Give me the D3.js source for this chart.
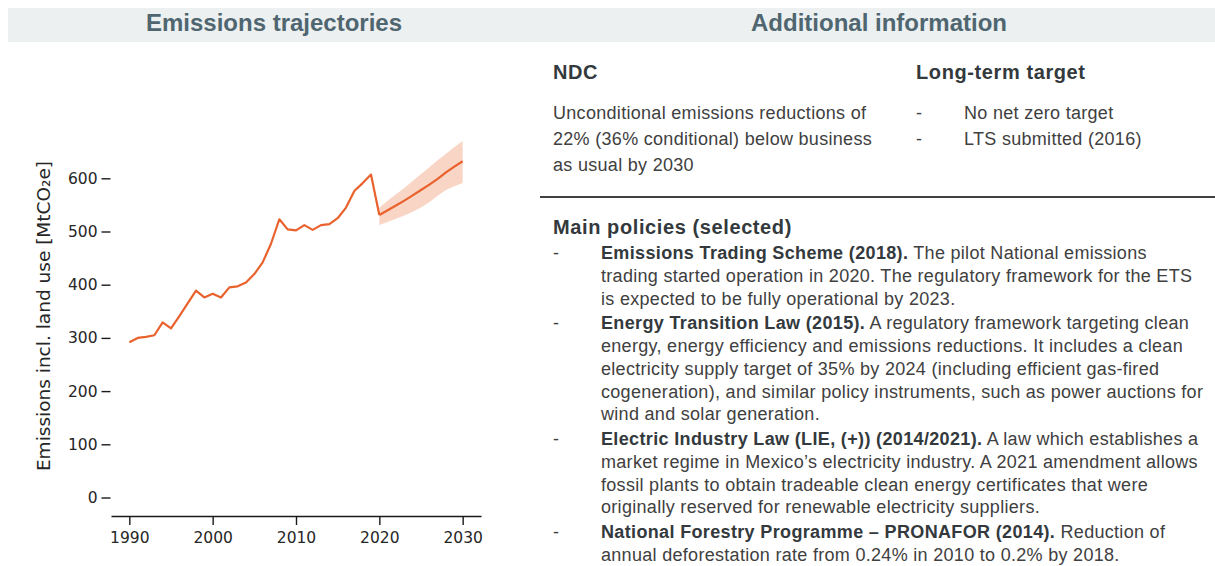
<!DOCTYPE html>
<html>
<head>
<meta charset="utf-8">
<script src="https://cdn.jsdelivr.net/npm/d3@7"></script>
<style>
  body { margin: 0; background: #fff; }
  svg { display: block; }
</style>
</head>
<body>
<div id="chart"></div>
<script>
// Historic emissions (MtCO2e, incl. land use)
const histYears = d3.range(1990, 2021);
const histValues = [292, 300, 302, 305, 329, 318, 341, 365, 389, 376,
  383, 376, 395, 397, 404, 420, 442, 477, 523, 504,
  502, 512, 503, 512, 514, 525, 545, 576, 591, 607, 531];

// Projection 2020-2030 with uncertainty band
const projYears = d3.range(2020, 2031);
const projMid = [531, 540, 549, 558, 568, 578, 588, 599, 611, 622, 632];
const projLow = [512, 518, 524, 530, 537, 545, 555, 567, 578, 585, 591];
const projHigh = [545, 558, 570, 582, 595, 608, 621, 634, 646, 659, 670];

const yTicks = [0, 100, 200, 300, 400, 500, 600];
const xTicks = [1990, 2000, 2010, 2020, 2030];

const ndcLines = [
  'Unconditional emissions reductions of',
  '22% (36% conditional) below business',
  'as usual by 2030',
];
const longTermLines = ['No net zero target', 'LTS submitted (2016)'];

// each policy: [bold title, first line rest, ...continuation lines]
const policies = [
  ['Emissions Trading Scheme (2018).', ' The pilot National emissions',
    'trading started operation in 2020. The regulatory framework for the ETS',
    'is expected to be fully operational by 2023.'],
  ['Energy Transition Law (2015).', ' A regulatory framework targeting clean',
    'energy, energy efficiency and emissions reductions. It includes a clean',
    'electricity supply target of 35% by 2024 (including efficient gas-fired',
    'cogeneration), and similar policy instruments, such as power auctions for',
    'wind and solar generation.'],
  ['Electric Industry Law (LIE, (+)) (2014/2021).', ' A law which establishes a',
    'market regime in Mexico\u2019s electricity industry. A 2021 amendment allows',
    'fossil plants to obtain tradeable clean energy certificates that were',
    'originally reserved for renewable electricity suppliers.'],
  ['National Forestry Programme \u2013 PRONAFOR (2014).', ' Reduction of',
    'annual deforestation rate from 0.24% in 2010 to 0.2% by 2018.'],
];

const width = 1215, height = 566;
const ORANGE = '#e9622d';
const TITLE = '#4f6670';
const TEXT = '#404040';
const HEAD = '#33393c';
const SANS = '"Liberation Sans", Arial, sans-serif';
const MPL = '"DejaVu Sans", sans-serif';

const svg = d3.select('#chart').append('svg')
  .attr('width', width)
  .attr('height', height);

// text styles
const body = (sel) => sel
  .style('font', `18px ${SANS}`)
  .style('letter-spacing', '0.3px')
  .attr('fill', TEXT);
const heading = (sel) => sel
  .style('font', `bold 20px ${SANS}`)
  .style('letter-spacing', '0.6px')
  .attr('fill', HEAD);

/* Header bar */
svg.append('rect')
  .attr('x', 8).attr('y', 8)
  .attr('width', width - 8).attr('height', 34)
  .attr('fill', '#ecf0f1');

svg.append('text')
  .attr('x', 274).attr('y', 31)
  .attr('text-anchor', 'middle')
  .style('font', `bold 24px ${SANS}`)
  .attr('fill', TITLE)
  .text('Emissions trajectories');

svg.append('text')
  .attr('x', 879).attr('y', 31)
  .attr('text-anchor', 'middle')
  .style('font', `bold 24px ${SANS}`)
  .attr('fill', TITLE)
  .text('Additional information');

/* Chart */
const x = d3.scaleLinear().domain([1987.8, 2032.2]).range([111, 481]);
const y = d3.scaleLinear().domain([0, 600]).range([497.5, 178.3]);

const area = d3.area()
  .x((d, i) => x(projYears[i]))
  .y0((d, i) => y(projLow[i]))
  .y1((d, i) => y(projHigh[i]));

svg.append('path')
  .datum(projMid)
  .attr('d', area)
  .attr('fill', ORANGE)
  .attr('fill-opacity', 0.27);

const line = d3.line()
  .x((d) => x(d[0]))
  .y((d) => y(d[1]));

svg.append('path')
  .datum(histYears.map((yr, i) => [yr, histValues[i]]))
  .attr('d', line)
  .attr('fill', 'none')
  .attr('stroke', ORANGE)
  .attr('stroke-width', 2.2)
  .attr('stroke-linejoin', 'round');

svg.append('path')
  .datum(projYears.map((yr, i) => [yr, projMid[i]]))
  .attr('d', line)
  .attr('fill', 'none')
  .attr('stroke', ORANGE)
  .attr('stroke-width', 2.2)
  .attr('stroke-linejoin', 'round');

// y axis (no spine)
const yAxis = svg.append('g')
  .attr('transform', 'translate(110.5,0)')
  .call(d3.axisLeft(y).tickValues(yTicks).tickSize(9).tickPadding(4));
yAxis.select('.domain').remove();

// x axis
svg.append('g')
  .attr('transform', 'translate(0,516)')
  .call(d3.axisBottom(x).tickValues(xTicks).tickFormat(d3.format('d'))
    .tickSize(9).tickSizeOuter(0).tickPadding(7));

svg.selectAll('.tick line, .domain')
  .attr('stroke', '#1a1a1a')
  .attr('stroke-width', 1.4);
svg.selectAll('.tick text')
  .style('font', `15.5px ${MPL}`)
  .attr('fill', '#262626');

svg.append('text')
  .attr('transform', 'translate(50,316) rotate(-90)')
  .attr('text-anchor', 'middle')
  .style('font', `18.5px ${MPL}`)
  .attr('fill', '#262626')
  .text('Emissions incl. land use [MtCO\u2082e]');

/* Additional information */
const left = 553;
const bullet = 601;

svg.append('text').attr('x', left).attr('y', 79).call(heading).text('NDC');
svg.append('text').attr('x', 916).attr('y', 79).call(heading).text('Long-term target');

svg.append('g').selectAll('text')
  .data(ndcLines)
  .join('text')
  .attr('x', left)
  .attr('y', (d, i) => 119 + i * 26)
  .call(body)
  .text((d) => d);

const lt = svg.append('g').selectAll('g')
  .data(longTermLines)
  .join('g')
  .attr('transform', (d, i) => `translate(0,${119 + i * 26})`);
lt.append('text').attr('x', 916).call(body).text('-');
lt.append('text').attr('x', 964).call(body).text((d) => d);

// divider
svg.append('line')
  .attr('x1', 540).attr('x2', width)
  .attr('y1', 197).attr('y2', 197)
  .attr('stroke', '#000')
  .attr('stroke-width', 1.6);

svg.append('text').attr('x', left).attr('y', 234).call(heading)
  .text('Main policies (selected)');

let yy = 259;
const lineH = 22.75;
policies.forEach((p) => {
  const [title, rest, ...more] = p;
  svg.append('text').attr('x', left).attr('y', yy).call(body).text('-');
  const t = svg.append('text').attr('x', bullet).attr('y', yy).call(body);
  t.append('tspan')
    .style('font-weight', 'bold')
    .style('letter-spacing', '0.35px')
    .attr('fill', HEAD)
    .text(title);
  t.append('tspan').text(rest);
  more.forEach((m) => {
    yy += lineH;
    svg.append('text').attr('x', bullet).attr('y', yy).call(body).text(m);
  });
  yy += lineH + 2;
});
</script>
</body>
</html>
